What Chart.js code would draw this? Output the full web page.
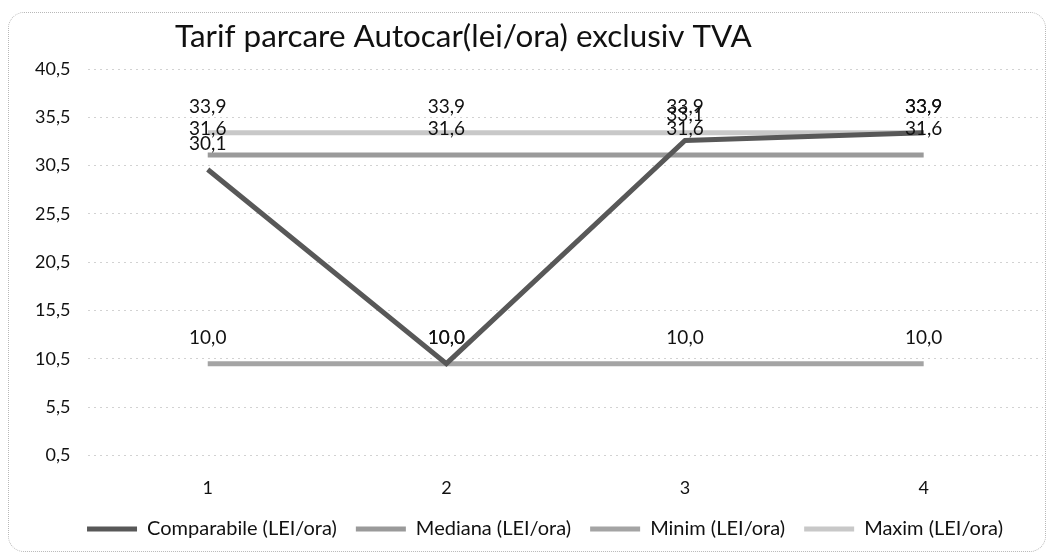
<!DOCTYPE html>
<html>
<head>
<meta charset="utf-8">
<script src="https://cdn.jsdelivr.net/npm/chart.js@4"></script>
<style>
  html, body { margin: 0; padding: 0; background: #fff; }
  #frame { position: absolute; left: 8px; top: 12px; width: 1036px; height: 538px; border: 1px dotted #b8b8b8; border-radius: 16px; }
  #wrap { position: absolute; left: 0; top: 0; width: 1052px; height: 558px; }
</style>
</head>
<body>
<div id="frame"></div>
<div id="wrap"><canvas id="c" width="1052" height="558"></canvas></div>
<script>
const titleText = "Tarif parcare Autocar(lei/ora) exclusiv TVA";
const categories = ["1", "2", "3", "4"];
const comparabile = [30.1, 10.0, 33.1, 33.9];
const mediana = [31.6, 31.6, 31.6, 31.6];
const minim = [10.0, 10.0, 10.0, 10.0];
const maxim = [33.9, 33.9, 33.9, 33.9];
const seriesNames = ["Comparabile (LEI/ora)", "Mediana (LEI/ora)", "Minim (LEI/ora)", "Maxim (LEI/ora)"];
const yMin = 0.5, yMax = 40.5, yStep = 5;

const FONT = "Lato, 'Open Sans', sans-serif";
const fmt = v => v.toFixed(1).replace('.', ',');

const labelPlugin = {
  id: 'valueLabels',
  afterDatasetsDraw(chart) {
    const ctx = chart.ctx;
    ctx.save();
    ctx.font = "19px " + FONT;
    ctx.fillStyle = "#111";
    ctx.textAlign = "center";
    ctx.textBaseline = "middle";
    chart.data.datasets.forEach((ds, di) => {
      const meta = chart.getDatasetMeta(di);
      meta.data.forEach((pt, i) => {
        ctx.fillText(fmt(ds.data[i]), pt.x, pt.y - 26);
      });
    });
    ctx.restore();
  }
};

const titlePlugin = {
  id: 'leftTitle',
  afterDraw(chart) {
    const ctx = chart.ctx;
    ctx.save();
    ctx.font = "31.4px " + FONT;
    ctx.fillStyle = "#111";
    ctx.textAlign = "left";
    ctx.textBaseline = "middle";
    ctx.fillText(titleText, 175, 37);
    ctx.restore();
  }
};

const legendTweak = {
  id: 'legendTweak',
  beforeLayout(chart) {
    const lg = chart.legend;
    if (lg && !lg._patched) {
      const orig = lg.fit.bind(lg);
      lg.fit = function () { orig(); this.height = Math.max(0, this.height - 21); };
      lg._patched = true;
    }
  },
  afterLayout(chart) {
    const lg = chart.legend;
    if (lg) { lg.left += 15; lg.right += 15; lg.top -= 21; }
  }
};

const mk = (label, data, color, order) => ({
  label, data,
  borderColor: color, backgroundColor: color,
  borderWidth: 5, pointRadius: 0, pointHoverRadius: 0,
  tension: 0, fill: false, order
});

new Chart(document.getElementById('c'), {
  type: 'line',
  data: {
    labels: categories,
    datasets: [
      mk(seriesNames[0], comparabile, '#585858', 0),
      mk(seriesNames[1], mediana, '#9a9a9a', 2),
      mk(seriesNames[2], minim, '#a4a4a4', 3),
      mk(seriesNames[3], maxim, '#c8c8c8', 1)
    ]
  },
  options: {
    responsive: false,
    animation: false,
    layout: { padding: { left: 17, right: 9, top: 69, bottom: 9 } },
    plugins: {
      title: { display: false },
      tooltip: { enabled: false },
      legend: {
        position: 'bottom',
        labels: {
          font: { family: FONT, size: 20 },
          color: '#111',
          boxWidth: 50, boxHeight: 5,
          padding: 19,
          generateLabels(chart) {
            return chart.data.datasets.map((ds, i) => ({
              text: ds.label, fillStyle: ds.borderColor, strokeStyle: ds.borderColor,
              lineWidth: 0, hidden: false, datasetIndex: i, fontColor: '#111'
            }));
          }
        }
      }
    },
    scales: {
      x: {
        offset: true,
        grid: { display: false, drawTicks: false },
        border: { display: false },
        ticks: { font: { family: FONT, size: 18 }, color: '#111', padding: 22 }
      },
      y: {
        min: yMin, max: yMax,
        afterBuildTicks(axis) {
          const t = [];
          for (let v = yMin; v <= yMax + 1e-9; v += yStep) t.push({ value: v });
          axis.ticks = t;
        },
        grid: { color: '#d2d2d2', lineWidth: 1, drawTicks: false },
        border: { display: false, dash: [2, 4] },
        ticks: { font: { family: FONT, size: 18 }, color: '#111', padding: 18, callback: v => fmt(v) }
      }
    }
  },
  plugins: [labelPlugin, titlePlugin, legendTweak]
});
</script>
</body>
</html>
